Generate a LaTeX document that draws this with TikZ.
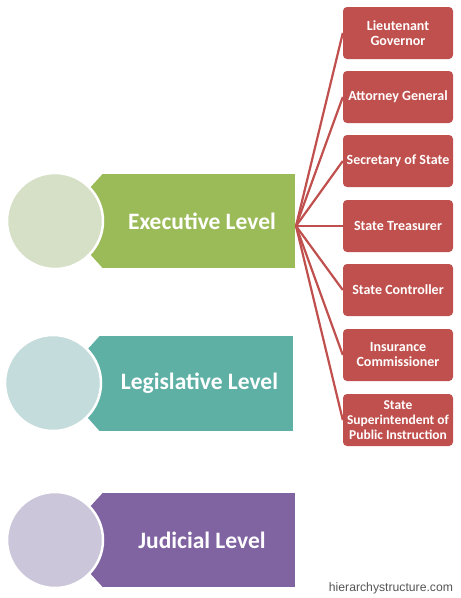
\documentclass[tikz,border=0pt]{standalone}
\usepackage{fontspec}
\setmainfont{Carlito}
\newfontfamily\wmfont{Liberation Sans}
\definecolor{exgreen}{HTML}{9BBB59}
\definecolor{excirc}{HTML}{D6E0C6}
\definecolor{legteal}{HTML}{5EB0A5}
\definecolor{legcirc}{HTML}{C4DCDB}
\definecolor{judpurp}{HTML}{8064A2}
\definecolor{judcirc}{HTML}{CBC6D9}
\definecolor{offred}{HTML}{C0504D}
\definecolor{wmgray}{HTML}{555555}
\begin{document}
\begin{tikzpicture}[x=1pt,y=-1pt,
  levelbox/.style={rectangle, minimum width=192pt, minimum height=94pt, inner sep=0pt,
    text=white, font=\bfseries\fontsize{23.5}{28}\selectfont},
  roundel/.style={circle, draw=white, line width=2.5pt, minimum size=96pt, inner sep=0pt},
  office/.style={rectangle, rounded corners=4pt, fill=offred, minimum width=110pt,
    minimum height=52pt, align=center, inner xsep=0pt, inner ysep=1pt, text=white,
    font=\bfseries\fontsize{14}{15}\selectfont},
  link/.style={draw=offred, line width=2.2pt}]
\useasboundingbox (0,0) rectangle (461,598);

% level boxes
\node[levelbox, fill=exgreen] (exec) at (199,221) {\hspace{6pt}Executive Level};
\fill[exgreen] (exec.north west) -- ++(-43,47) -- (exec.south west) -- cycle;
\node[roundel, fill=excirc] (execc) at (55,221) {};

\node[levelbox, fill=legteal, minimum width=193pt, minimum height=95pt] (leg) at (196.5,383.5) {\hspace{6pt}Legislative Level};
\fill[legteal] (leg.north west) -- ++(-43,47.5) -- (leg.south west) -- cycle;
\node[roundel, fill=legcirc] (legc) at (53,383) {};

\node[levelbox, fill=judpurp] (jud) at (199,540) {\hspace{6pt}Judicial Level};
\fill[judpurp] (jud.north west) -- ++(-43,47) -- (jud.south west) -- cycle;
\node[roundel, fill=judcirc] (judc) at (55,540) {};

% offices
\node[office] (lg) at (398,33) {Lieutenant\\Governor};
\node[office] (ag) at (398,97) {Attorney General};
\node[office] (ss) at (398,161) {Secretary of State};
\node[office] (st) at (398,226) {State Treasurer};
\node[office] (sc) at (398,290) {State Controller};
\node[office] (ic) at (398,355) {Insurance\\Commissioner};
\node[office, font=\bfseries\fontsize{13.5}{15}\selectfont] (sp) at (398,420) {State\\Superintendent of\\Public Instruction};

\coordinate (hub) at (296,226);
\foreach \n in {lg,ag,ss,st,sc,ic,sp}{
  \draw[link] (hub) -- (\n.west);
}

\node[font=\wmfont\fontsize{12.2}{14}\selectfont, text=wmgray, inner sep=0pt] (wm) at (391,588) {hierarchystructure.com};
\end{tikzpicture}
\end{document}
